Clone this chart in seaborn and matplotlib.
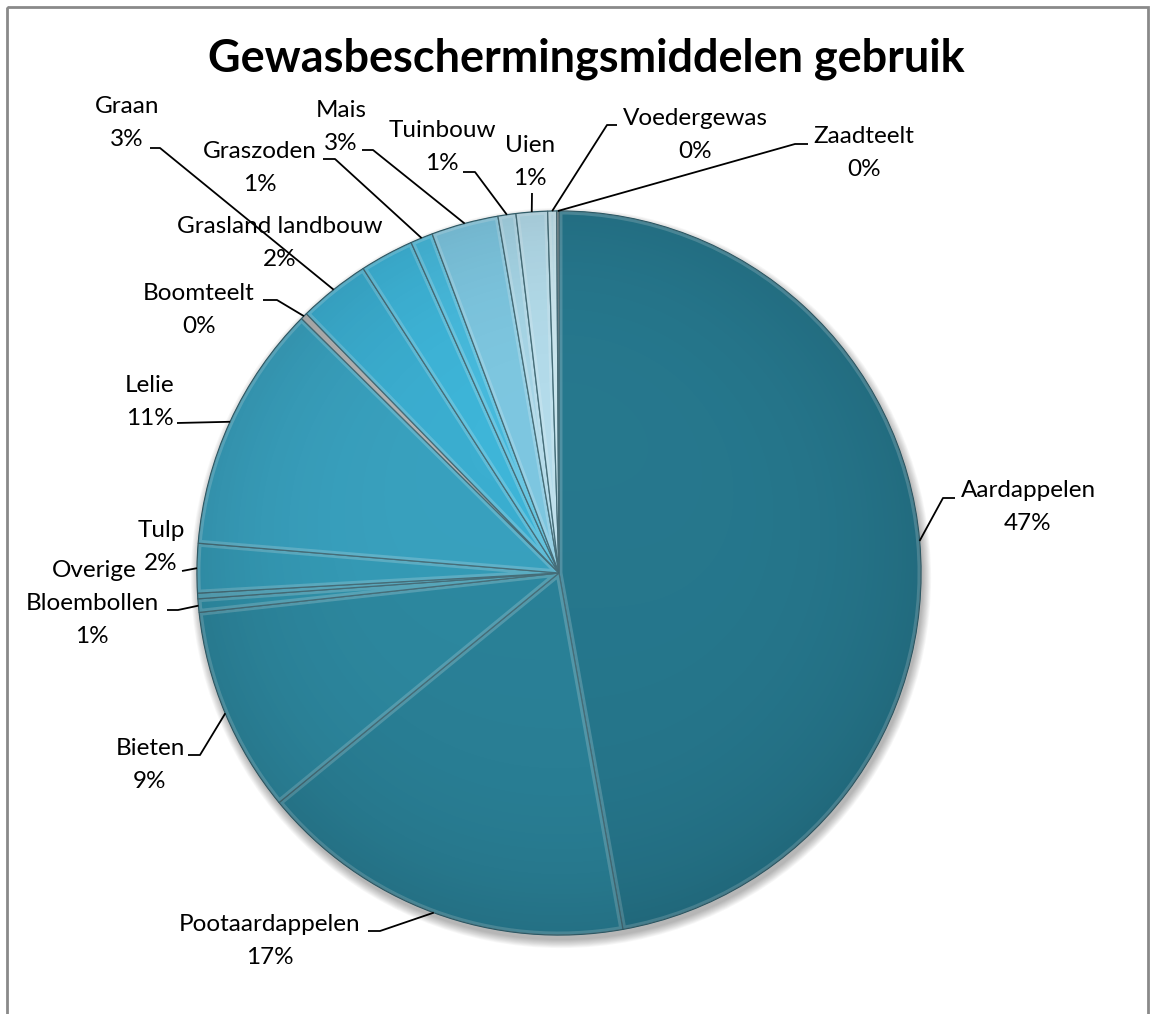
import numpy as np
import matplotlib
matplotlib.use("Agg")
import matplotlib.pyplot as plt
import seaborn as sns
from matplotlib.patches import Circle, Rectangle, Wedge

# ---------------- data ----------------
categories = ["Aardappelen", "Pootaardappelen", "Bieten", "Bloembollen", "Overige",
              "Tulp", "Lelie", "Boomteelt", "Graan", "Grasland landbouw", "Graszoden",
              "Mais", "Tuinbouw", "Uien", "Voedergewas", "Zaadteelt"]
shares = [47.2, 16.9, 9.2, 0.6, 0.25, 2.2, 11.1, 0.3, 3.2, 2.4, 1.0, 3.0, 0.8, 1.4, 0.4, 0.1]
show_percent = [True, True, True, True, False, True, True, True, True, True, True,
                True, True, True, True, True]
title = "Gewasbeschermingsmiddelen gebruik"

# ---------------- style ----------------
colors = ["#277a90", "#2b849b", "#2e8ba3", "#3194ad", "#3398b2", "#369eba", "#3aa4c2",
          "#a6a6a6", "#3cb1d4", "#3fb8dc", "#48bde0", "#80cae4", "#a9d9ea", "#b6dfee",
          "#c2e5f0", "#8c8c8c"]

# label layout in pixel coordinates: (centre x, baseline y of name, leader start points)
label_layout = {
    "Aardappelen": (1028, 497, [(955, 498), (943, 498)]),
    "Pootaardappelen": (270, 931, [(368, 931), (380, 931)]),
    "Bieten": (150, 755, [(188, 755), (200, 755)]),
    "Bloembollen": (92, 610, [(167, 610), (178, 610)]),
    "Overige": (94, 577, None),
    "Tulp": (161, 537, [(182, 571)]),
    "Lelie": (150, 392, [(177, 423)]),
    "Boomteelt": (199, 300, [(263, 300), (277, 300)]),
    "Graan": (127, 113, [(150, 148), (160, 148)]),
    "Grasland landbouw": (280, 233, None),
    "Graszoden": (260, 158, [(323, 159), (335, 159)]),
    "Mais": (341, 117, [(362, 150), (373, 150)]),
    "Tuinbouw": (442, 137, [(463, 172), (475, 172)]),
    "Uien": (530, 152, [(532, 193)]),
    "Voedergewas": (695, 125, [(617, 125), (607, 125)]),
    "Zaadteelt": (864, 143, [(808, 144), (795, 144)]),
}
W, H = 1155, 1014
cx, cy, R = 559, 573, 362
line_gap = 33
label_size = 17.5
title_size = 32.4

sns.set_theme(style="white")
plt.rcParams["font.family"] = ["Lato", "DejaVu Sans"]

fig = plt.figure(figsize=(W / 100, H / 100), dpi=100)
ax = fig.add_axes([0, 0, 1, 1])

# soft shadow under the pie
for i in range(10):
    ax.add_patch(Circle((cx + 2, cy + 5), R + i * 0.9, facecolor="black",
                        edgecolor="none", alpha=0.03, zorder=1))

wedges, _ = ax.pie(shares, colors=colors, startangle=-90, counterclock=True,
                   center=(cx, cy), radius=R, frame=True,
                   wedgeprops=dict(edgecolor="#1d4f5d", linewidth=0.9, zorder=2))

# bevel highlight along wedge edges
for w in wedges:
    hl = Wedge(w.center, w.r, w.theta1, w.theta2, facecolor="none",
               edgecolor="white", linewidth=5, alpha=0.2, zorder=3)
    hl.set_clip_path(w)
    ax.add_patch(hl)

# radial shading
n = 400
yy, xx = np.mgrid[-1:1:n * 1j, -1:1:n * 1j]
rr = np.sqrt(xx ** 2 + yy ** 2)
shade = np.zeros((n, n, 4))
shade[..., 3] = np.clip(0.10 * rr ** 4 + 0.05 * (yy + 1) / 2, 0, 1)
im = ax.imshow(shade, extent=(cx - R, cx + R, cy + R, cy - R), zorder=4,
               interpolation="bilinear")
clip = Circle((cx, cy), R, transform=ax.transData)
im.set_clip_path(clip)

# labels and leader lines
total = sum(shares)
for w, name, val, showp in zip(wedges, categories, shares, show_percent):
    x, yb, leader = label_layout[name]
    ax.text(x, yb, name, ha="center", va="baseline", fontsize=label_size,
            color="#000000", zorder=6)
    if showp:
        ax.text(x, yb + line_gap, f"{val / total * 100:.0f}%", ha="center",
                va="baseline", fontsize=label_size, color="#000000", zorder=6)
    if leader:
        tm = np.deg2rad((w.theta1 + w.theta2) / 2)
        end = (cx + R * np.cos(tm), cy + R * np.sin(tm))
        pts = leader + [end]
        ax.plot([p[0] for p in pts], [p[1] for p in pts], color="black",
                linewidth=1.3, zorder=5, solid_capstyle="butt")

ax.text(586, 72, title, ha="center", va="baseline", fontsize=title_size,
        fontweight="bold", color="black", zorder=6)

ax.add_patch(Rectangle((7, 7), 1141, 1030, facecolor="none", edgecolor="#8a8a8a",
                       linewidth=2, zorder=7))

ax.set_xlim(0, W)
ax.set_ylim(H, 0)
ax.set_aspect("auto")
ax.axis("off")
fig.savefig("out.png", dpi=100)
